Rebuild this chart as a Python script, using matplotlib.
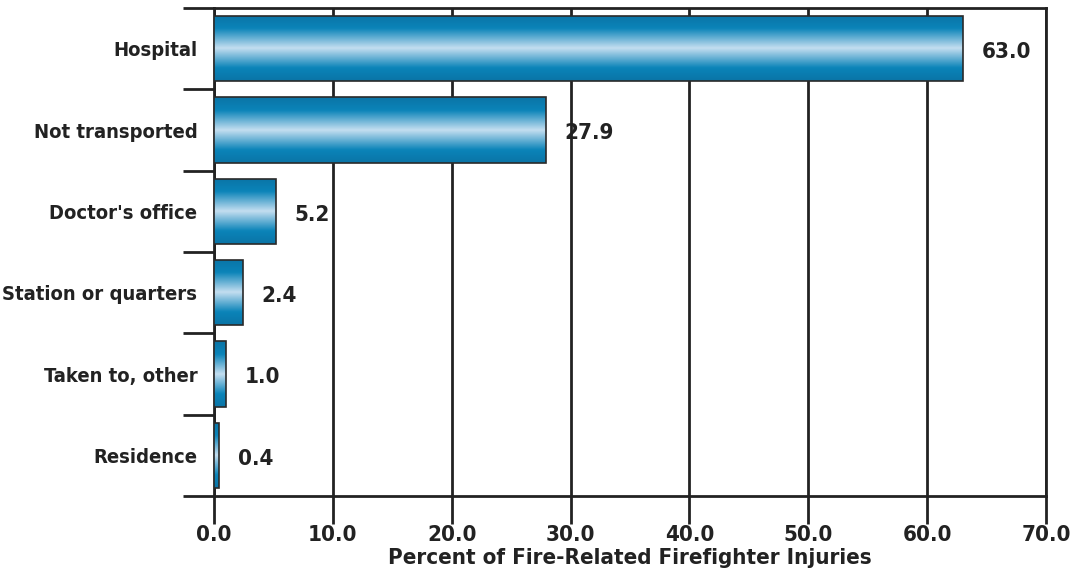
import matplotlib
matplotlib.use("Agg")
import matplotlib.pyplot as plt
import numpy as np
from matplotlib.colors import LinearSegmentedColormap
from matplotlib.ticker import FixedLocator

categories = ["Hospital", "Not transported", "Doctor's office",
              "Station or quarters", "Taken to, other", "Residence"]
values = [63.0, 27.9, 5.2, 2.4, 1.0, 0.4]
xticks = [0, 10, 20, 30, 40, 50, 60, 70]

plt.rcParams['font.family'] = ['DejaVu Sans']
plt.rcParams['font.weight'] = 'bold'
plt.rcParams['font.stretch'] = 'condensed'

fig = plt.figure(figsize=(10.72, 5.79), dpi=100)
ax = fig.add_axes([214/1072, 1 - 496/579, (1046-214)/1072, (496-8)/579])

n = len(categories)
ypos = np.arange(n)
cmap = LinearSegmentedColormap.from_list("tube", [
    (0.0, "#0a74a6"), (0.2, "#0b84b9"), (0.5, "#c4def0"),
    (0.8, "#0b84b9"), (1.0, "#0a74a6")])
grad = np.linspace(0, 1, 256).reshape(-1, 1)

ax.set_xlim(0, 70)
ax.set_ylim(n - 0.5, -0.5)

bars = ax.barh(ypos, values, height=0.8, color="none",
               edgecolor="#2a2a2a", linewidth=1.2, zorder=4)
for bar, v in zip(bars, values):
    y0 = bar.get_y()
    h = bar.get_height()
    im = ax.imshow(grad, cmap=cmap, aspect="auto",
                   extent=[0, v, y0 + h, y0], zorder=3,
                   interpolation="bicubic")
    im.set_clip_path(bar)
    ax.text(v + 1.6, y0 + h / 2 + 0.04, f"{v:.1f}",
            va="center", ha="left", fontsize=16, color="#222222")

ax.set_xticks(xticks)
ax.set_xticklabels([f"{t:.1f}" for t in xticks], fontsize=16, color="#222222")
ax.grid(axis="x", color="#222222", linewidth=2, zorder=1)
ax.set_axisbelow(True)

ax.yaxis.set_major_locator(FixedLocator(list(ypos)))
ax.set_yticklabels(categories, fontsize=14.5, color="#222222")
ax.yaxis.set_minor_locator(FixedLocator(list(np.arange(-0.5, n, 1.0))))
ax.tick_params(axis="y", which="major", length=0, pad=12)
ax.tick_params(axis="y", which="minor", length=22, width=2, color="#222222")
ax.tick_params(axis="x", length=20, width=2, color="#222222", pad=1)

for s in ax.spines.values():
    s.set_linewidth(2)
    s.set_color("#222222")

ax.set_xlabel("Percent of Fire-Related Firefighter Injuries",
              fontsize=16, fontweight="bold", color="#222222", labelpad=2)

fig.savefig("out.png", dpi=100)
